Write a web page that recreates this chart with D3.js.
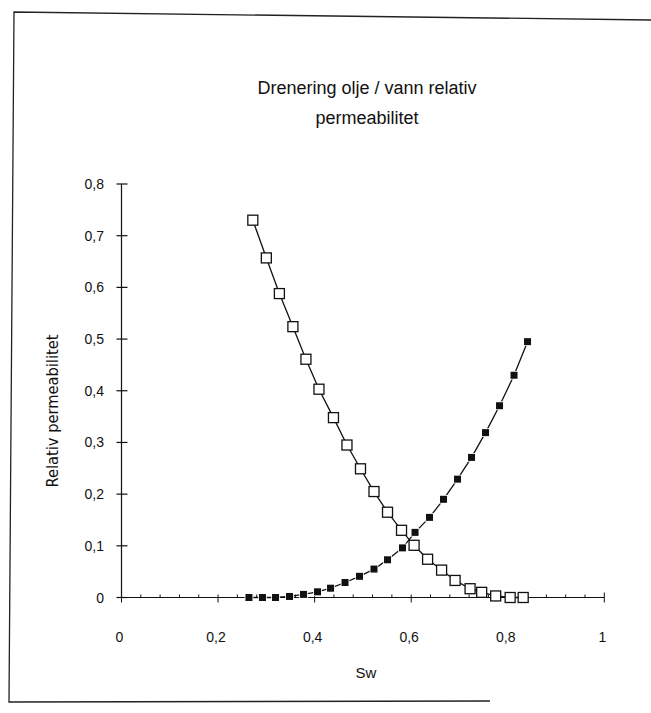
<!DOCTYPE html>
<html lang="no">
<head>
<meta charset="utf-8">
<title>Drenering olje / vann relativ permeabilitet</title>
<script src="https://d3js.org/d3.v7.min.js"></script>
<style>
  body { margin:0; background:#fff; }
  svg { display:block; font-family:"Liberation Sans", Arial, sans-serif; }
</style>
</head>
<body>
<div id="chart"></div>
<script>
// Sw values and relative permeabilities
var swOil = [0.272, 0.300, 0.327, 0.355, 0.382, 0.409, 0.439, 0.467, 0.495, 0.523, 0.551,
             0.580, 0.606, 0.634, 0.663, 0.691, 0.722, 0.746, 0.775, 0.805, 0.832]
var krOil = [0.730, 0.657, 0.588, 0.524, 0.461, 0.403, 0.348, 0.295, 0.249, 0.205, 0.165,
             0.130, 0.101, 0.074, 0.053, 0.033, 0.017, 0.010, 0.003, 0.000, 0.000]
var swWater = [0.264, 0.292, 0.319, 0.348, 0.377, 0.406, 0.433, 0.463, 0.493, 0.523, 0.551,
               0.582, 0.608, 0.638, 0.667, 0.696, 0.725, 0.754, 0.783, 0.813, 0.841]
var krWater = [0.000, 0.000, 0.000, 0.002, 0.006, 0.011, 0.018, 0.029, 0.041, 0.055, 0.073,
               0.096, 0.126, 0.155, 0.190, 0.229, 0.271, 0.319, 0.371, 0.430, 0.495]
var xTicks = [0, 0.2, 0.4, 0.6, 0.8, 1]
var yTicks = [0, 0.1, 0.2, 0.3, 0.4, 0.5, 0.6, 0.7, 0.8]
var titleLines = ["Drenering olje / vann relativ", "permeabilitet"]

var w = 651, h = 713
var fmt = function(v){ return String(v).replace(".", ",") }

var svg = d3.select("#chart").append("svg")
    .attr("width", w).attr("height", h)

// scanned page frame (left, top and part of bottom edge)
svg.append("path")
    .attr("d", "M651,20 L14,12 L9,702 L490,701")
    .attr("fill", "none").attr("stroke", "#222").attr("stroke-width", 1.3)

var x = d3.scaleLinear().domain([0, 1]).range([121.5, 604.3])
var y = d3.scaleLinear().domain([0, 0.8]).range([597.5, 184])

// title
svg.append("g").selectAll("text")
    .data(titleLines).enter().append("text")
    .attr("x", 367).attr("y", function(d, i){ return 94 + i*30 })
    .attr("text-anchor", "middle")
    .attr("font-size", 18)
    .attr("fill", "#111")
    .text(function(d){ return d })

// y axis
var yAxis = svg.append("g").attr("stroke", "#111").attr("stroke-width", 1.2)
yAxis.append("line")
    .attr("x1", x(0)).attr("x2", x(0)).attr("y1", y(0)).attr("y2", y(0.8))
yAxis.selectAll(".yt").data(yTicks).enter().append("line")
    .attr("x1", x(0) - 5).attr("x2", x(0) + 6)
    .attr("y1", function(d){ return y(d) }).attr("y2", function(d){ return y(d) })
svg.append("g").selectAll("text").data(yTicks).enter().append("text")
    .attr("x", 104).attr("y", function(d){ return y(d) + 5 })
    .attr("text-anchor", "end").attr("font-size", 14).attr("fill", "#111")
    .text(fmt)

// x axis
var xAxis = svg.append("g").attr("stroke", "#111").attr("stroke-width", 1.2)
xAxis.append("line")
    .attr("x1", x(0)).attr("x2", x(1)).attr("y1", y(0)).attr("y2", y(0))
var minor = d3.range(0, 25).map(function(i){ return i*0.04 })
xAxis.selectAll(".xm").data(minor).enter().append("line")
    .attr("stroke-width", 1)
    .attr("x1", function(d){ return x(d) }).attr("x2", function(d){ return x(d) })
    .attr("y1", y(0) - 3).attr("y2", y(0))
xAxis.selectAll(".xt").data(xTicks).enter().append("line")
    .attr("stroke-width", 1)
    .attr("x1", function(d){ return x(d) }).attr("x2", function(d){ return x(d) })
    .attr("y1", function(d){ return (d == 0 || d == 1) ? y(0) - 5 : y(0) })
    .attr("y2", y(0) + 5)
svg.append("g").selectAll("text").data(xTicks).enter().append("text")
    .attr("x", function(d){ return x(d) - 2 }).attr("y", 642)
    .attr("text-anchor", "middle").attr("font-size", 14).attr("fill", "#111")
    .text(fmt)

// axis titles
svg.append("text")
    .attr("x", 366).attr("y", 678)
    .attr("text-anchor", "middle").attr("font-size", 15).attr("fill", "#111")
    .text("Sw")
svg.append("text")
    .attr("transform", "translate(58,411) rotate(-90)")
    .attr("text-anchor", "middle")
    .attr("font-family", "'Liberation Sans Narrow', 'DejaVu Sans Condensed', sans-serif")
    .attr("font-size", 16.5).attr("fill", "#111")
    .attr("textLength", 153).attr("lengthAdjust", "spacingAndGlyphs")
    .text("Relativ permeabilitet")

var oil = swOil.map(function(d, i){ return [d, krOil[i]] })
var water = swWater.map(function(d, i){ return [d, krWater[i]] })
var line = d3.line().x(function(d){ return x(d[0]) }).y(function(d){ return y(d[1]) })

// water curve, filled squares
svg.append("path").datum(water)
    .attr("d", line).attr("fill", "none").attr("stroke", "#111").attr("stroke-width", 1.3)
svg.append("g").selectAll("rect").data(water).enter().append("rect")
    .attr("x", function(d){ return x(d[0]) - 3.5 }).attr("y", function(d){ return y(d[1]) - 3.5 })
    .attr("width", 7).attr("height", 7)
    .attr("fill", "#111").attr("stroke", "#fff").attr("stroke-width", 1.6)
    .attr("paint-order", "stroke")

// oil curve, open squares
svg.append("path").datum(oil)
    .attr("d", line).attr("fill", "none").attr("stroke", "#111").attr("stroke-width", 1.3)
svg.append("g").selectAll("rect").data(oil).enter().append("rect")
    .attr("x", function(d){ return x(d[0]) - 5 }).attr("y", function(d){ return y(d[1]) - 5 })
    .attr("width", 10).attr("height", 10)
    .attr("fill", "#fff").attr("stroke", "#111").attr("stroke-width", 1.3)
</script>
</body>
</html>
